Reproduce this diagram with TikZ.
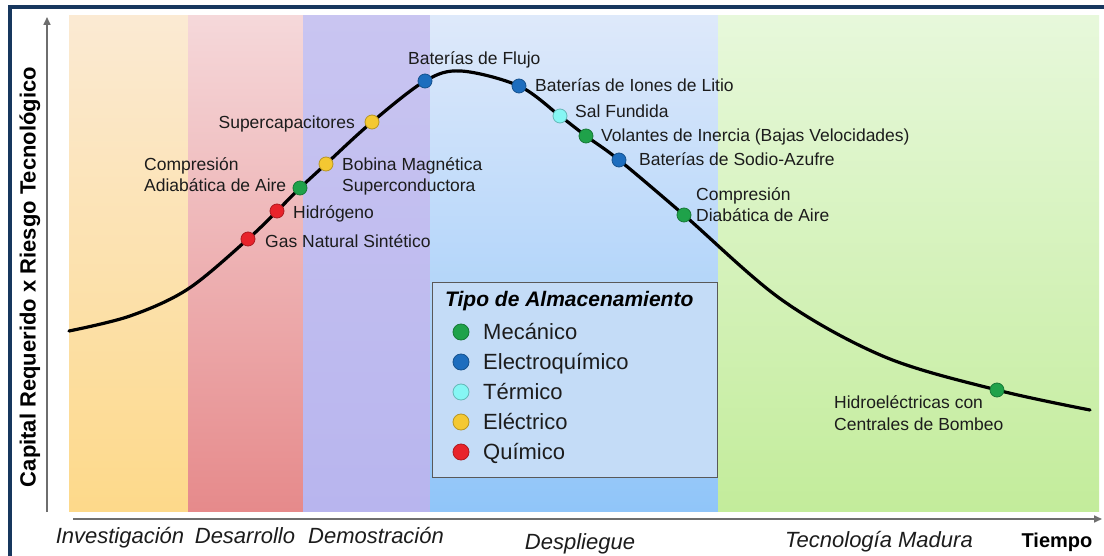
\documentclass[tikz,border=0pt]{standalone}
\usepackage{fontspec}
\setmainfont{Liberation Sans}
\usetikzlibrary{arrows.meta}
\definecolor{frame}{HTML}{17375E}
\definecolor{labc}{HTML}{1C1C1C}
\definecolor{axisg}{HTML}{6E6E6E}
\definecolor{yelT}{HTML}{FBEAD3}\definecolor{yelB}{HTML}{FDD98A}
\definecolor{pinT}{HTML}{F5D8DA}\definecolor{pinB}{HTML}{E68A8B}
\definecolor{purT}{HTML}{C9C5F1}\definecolor{purB}{HTML}{B8B5EE}
\definecolor{bluT}{HTML}{DEE9FA}\definecolor{bluB}{HTML}{90C5F9}
\definecolor{greT}{HTML}{E7F8DB}\definecolor{greB}{HTML}{C3EC9B}
\definecolor{cMec}{HTML}{1FA24A}
\definecolor{cEle}{HTML}{1D6DBE}
\definecolor{cTer}{HTML}{86F6F4}
\definecolor{cElc}{HTML}{F4C832}
\definecolor{cQui}{HTML}{E8232B}
\definecolor{legf}{HTML}{C4DCF7}
\begin{document}
\begin{tikzpicture}[x=1pt,y=-1pt,
  lbl/.style={font=\fontsize{17.5}{21.5}\selectfont, text=labc, inner sep=0pt, align=left},
  dot/.style={circle, minimum size=14pt, inner sep=0pt, draw=#1!75!black, fill=#1, line width=0.8pt},
  ldot/.style={circle, minimum size=16pt, inner sep=0pt, draw=#1!75!black, fill=#1, line width=0.8pt},
  legtxt/.style={font=\fontsize{22}{26}\selectfont, text=labc, inner sep=0pt, anchor=base west},
  phase/.style={font=\fontsize{22}{26}\selectfont\itshape, text=labc, inner sep=0pt, anchor=base},
  band/.style={draw=none}]
\useasboundingbox (0,0) rectangle (1104,556);
\fill[white] (0,0) rectangle (1104,556);
% frame
\draw[frame, line width=4pt] (10,560) -- (10,7.5) -- (1110,7.5);
% bands
\shade[band, top color=yelT, bottom color=yelB] (69,16) rectangle (188,511);
\shade[band, top color=pinT, bottom color=pinB] (188,16) rectangle (303,511);
\shade[band, top color=purT, bottom color=purB] (303,16) rectangle (430,511);
\shade[band, top color=bluT, bottom color=bluB] (430,16) rectangle (718,511);
\shade[band, top color=greT, bottom color=greB] (718,16) rectangle (1099,511);
% axes
\coordinate (yb) at (47,512);
\coordinate (yt) at (47,17);
\coordinate (xl) at (73,519);
\coordinate (xr) at (1102,519);
\draw[axisg, line width=1.6pt, -{Triangle[length=8pt,width=7pt]}] (yb) -- (yt);
\draw[axisg, line width=1.6pt, -{Triangle[length=8pt,width=7pt]}] (xl) -- (xr);
% curve coordinates
\coordinate (c0) at (69,331);
\coordinate (c1) at (130,316);
\coordinate (c2) at (188,289);
\coordinate (pGNS) at (248,239);
\coordinate (pH) at (277,211);
\coordinate (pCAA) at (300,188);
\coordinate (pBob) at (326,164);
\coordinate (pSup) at (372,122);
\coordinate (pFlu) at (425,81);
\coordinate (cpk) at (461,71);
\coordinate (pLit) at (519,86);
\coordinate (pSal) at (560,116);
\coordinate (pVol) at (586,136);
\coordinate (pSod) at (619,160);
\coordinate (pCDA) at (684,215);
\coordinate (c3) at (782,300);
\coordinate (c4) at (885,357);
\coordinate (pHid) at (997,390);
\coordinate (c5) at (1090,410);
\draw[black, line width=3.2pt, line cap=round] plot[smooth, tension=0.55] coordinates {(c0) (c1) (c2) (pGNS) (pH) (pCAA) (pBob) (pSup) (pFlu) (cpk) (pLit) (pSal) (pVol) (pSod) (pCDA) (c3) (c4) (pHid) (c5)};
% dots
\node[dot=cQui] (dGNS) at (pGNS) {};
\node[dot=cQui] (dH) at (pH) {};
\node[dot=cMec] (dCAA) at (pCAA) {};
\node[dot=cElc] (dBob) at (pBob) {};
\node[dot=cElc] (dSup) at (pSup) {};
\node[dot=cEle] (dFlu) at (pFlu) {};
\node[dot=cEle] (dLit) at (pLit) {};
\node[dot=cTer] (dSal) at (pSal) {};
\node[dot=cMec] (dVol) at (pVol) {};
\node[dot=cEle] (dSod) at (pSod) {};
\node[dot=cMec] (dCDA) at (pCDA) {};
\node[dot=cMec] (dHid) at (pHid) {};
% labels (base anchor = last line's baseline)
\node[lbl, anchor=base west] (tFlu) at (408,65) {Baterías de Flujo};
\node[lbl, anchor=base west] (tLit) at (535,92) {Baterías de Iones de Litio};
\node[lbl, anchor=base west] (tSal) at (575,118) {Sal Fundida};
\node[lbl, anchor=base west] (tVol) at (601,142) {Volantes de Inercia (Bajas Velocidades)};
\node[lbl, anchor=base west] (tSod) at (639,166) {Baterías de Sodio-Azufre};
\node[lbl, anchor=base west] (tCDA) at (696,222) {Compresión\\Diabática de Aire};
\node[lbl, anchor=base east] (tSup) at (355,129) {Supercapacitores};
\node[lbl, anchor=base west] (tBob) at (342,192) {Bobina Magnética\\Superconductora};
\node[lbl, anchor=base west] (tCAA) at (144,192) {Compresión\\Adiabática de Aire};
\node[lbl, anchor=base west] (tH) at (293,219) {Hidrógeno};
\node[lbl, anchor=base west] (tGNS) at (265,248) {Gas Natural Sintético};
\node[lbl, anchor=base west] (tHid) at (834,430) {Hidroeléctricas con\\Centrales de Bombeo};
% legend
\node[draw=black!65, line width=1pt, fill=legf, minimum width=285pt, minimum height=195pt, anchor=north west, inner sep=0pt] (leg) at (432,282) {};
\node[font=\fontsize{21}{24}\selectfont\bfseries\itshape, text=black, anchor=base west, inner sep=0pt] (legT) at (445,307) {Tipo de Almacenamiento};
\node[ldot=cMec] (l1) at (461,332) {};
\node[ldot=cEle] (l2) at (461,362) {};
\node[ldot=cTer] (l3) at (461,392) {};
\node[ldot=cElc] (l4) at (461,422) {};
\node[ldot=cQui] (l5) at (461,452) {};
\node[legtxt] (lt1) at (483,339) {Mecánico};
\node[legtxt] (lt2) at (483,370) {Electroquímico};
\node[legtxt] (lt3) at (483,399) {Térmico};
\node[legtxt] (lt4) at (483,429) {Eléctrico};
\node[legtxt] (lt5) at (483,459) {Químico};
% phase labels
\node[phase] (ph1) at (120,543) {Investigación};
\node[phase] (ph2) at (245,543) {Desarrollo};
\node[phase] (ph3) at (376,543) {Demostración};
\node[phase] (ph4) at (580,549) {Despliegue};
\node[phase] (ph5) at (879,547) {Tecnología Madura};
\node[font=\fontsize{20}{24}\selectfont\bfseries, text=black, inner sep=0pt, anchor=base] (tiempo) at (1057,547) {Tiempo};
\node[font=\fontsize{22}{26}\selectfont\bfseries, text=black, inner sep=0pt, rotate=90] (ylab) at (30,277) {Capital Requerido x Riesgo Tecnológico};
\end{tikzpicture}
\end{document}
